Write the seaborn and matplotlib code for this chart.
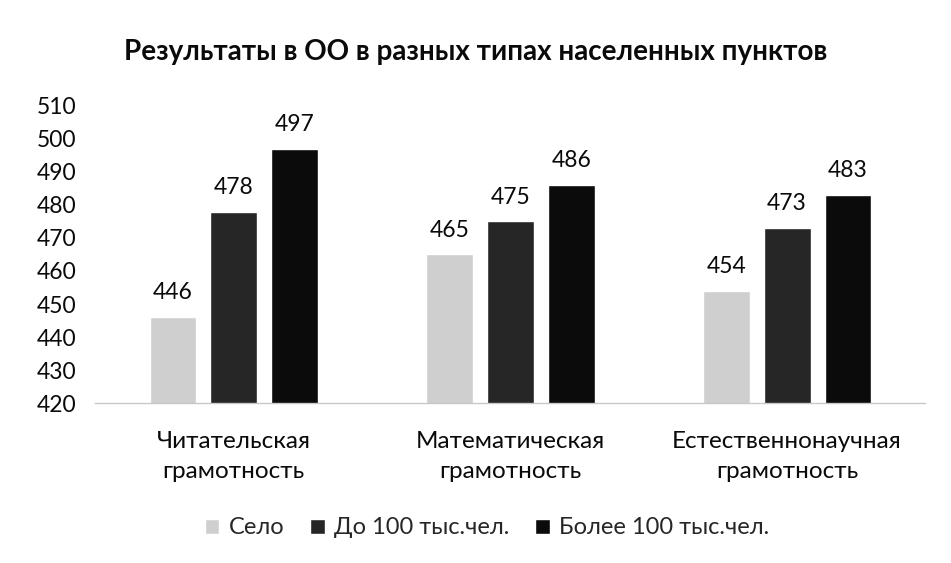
import pandas as pd
import matplotlib.pyplot as plt
import seaborn as sns

# Data
categories = ["Читательская\nграмотность", "Математическая\nграмотность", "Естественнонаучная\nграмотность"]
groups = ["Село", "До 100 тыс.чел.", "Более 100 тыс.чел."]
selo = [446, 465, 454]
do100 = [478, 475, 473]
bolee100 = [497, 486, 483]

df = pd.DataFrame({
    "Категория": categories * 3,
    "Тип": [groups[0]] * 3 + [groups[1]] * 3 + [groups[2]] * 3,
    "Балл": selo + do100 + bolee100,
})

sns.set_theme(style="white")
plt.rcParams["font.family"] = ["Lato", "DejaVu Sans"]

palette = {groups[0]: "#cfcfcf", groups[1]: "#262626", groups[2]: "#0b0b0b"}

fig = plt.figure(figsize=(9.51, 5.63), dpi=100)
ax = fig.add_axes([0.1004, 0.284, 0.8727, 0.528])

sns.barplot(data=df, x="Категория", y="Балл", hue="Тип", palette=palette,
            width=0.66, gap=0.23, ax=ax, legend=True)

ax.set_ylim(420, 510)
ax.set_yticks(range(420, 511, 10))
ax.set_xlim(-0.5, 2.5)

for container in ax.containers:
    ax.bar_label(container, fmt="%d", padding=10, fontsize=16.5, color="#0a0a0a")

for side in ["top", "right", "left"]:
    ax.spines[side].set_visible(False)
ax.spines["bottom"].set_color("#c8c8c8")
ax.spines["bottom"].set_linewidth(1.0)

ax.tick_params(axis="y", labelsize=16.5, colors="#0a0a0a", length=0, pad=14)
ax.tick_params(axis="x", labelsize=17.5, colors="#0a0a0a", length=0, pad=20)
for lbl in ax.get_xticklabels():
    lbl.set_linespacing(1.55)
ax.set_xlabel("")
ax.set_ylabel("")

fig.suptitle("Результаты в ОО в разных типах населенных пунктов",
             x=0.5, y=0.93, fontsize=20, fontweight="bold", color="#0a0a0a")

ax.legend(loc="center", bbox_to_anchor=(0.472, -0.42), ncol=3, frameon=False,
          fontsize=17, handlelength=0.6, handleheight=0.6, handletextpad=0.4,
          columnspacing=1.1)

plt.savefig("out.png", dpi=100)
